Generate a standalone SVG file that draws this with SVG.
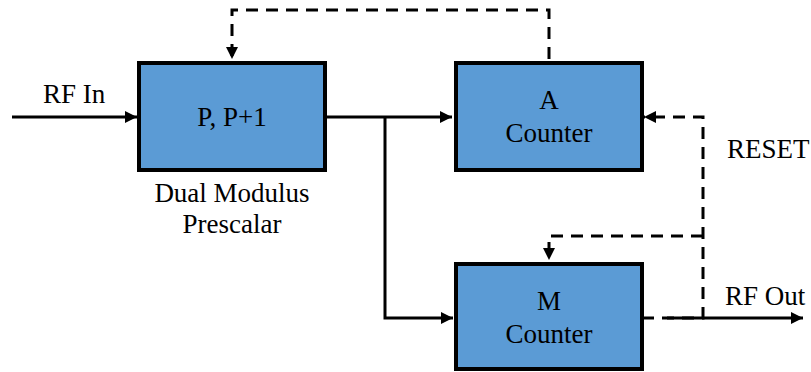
<svg xmlns="http://www.w3.org/2000/svg" width="811" height="372" viewBox="0 0 811 372">
  <style>
    .box { fill: #5B9BD5; stroke: #000; stroke-width: 4; }
    text { font-family: "Liberation Serif", "Times New Roman", "DejaVu Serif", serif; font-size: 27px; fill: #000; }
    .mid { text-anchor: middle; }
    .wire { fill: none; stroke: #000; stroke-width: 3; }
    .dash { fill: none; stroke: #000; stroke-width: 3; stroke-dasharray: 12 8; }
  </style>
  <defs>
    <marker id="arrow" viewBox="0 0 10 10" refX="10" refY="5" markerWidth="4" markerHeight="4" orient="auto" markerUnits="strokeWidth">
      <path d="M0,0 L10,5 L0,10 Z" fill="#000"/>
    </marker>
  </defs>

  <g id="connectors">
    <!-- RF input into prescaler -->
    <path class="wire" d="M12,117 H137" marker-end="url(#arrow)"/>
    <!-- prescaler output to A counter -->
    <path class="wire" d="M325,117 H452" marker-end="url(#arrow)"/>
    <!-- branch down to M counter -->
    <path class="wire" d="M385,117 V318 H453" marker-end="url(#arrow)"/>
    <!-- modulus control from A counter back to prescaler -->
    <path class="dash" d="M549,59 V10 H232 V59" marker-end="url(#arrow)"/>
    <!-- reset loop from M counter output -->
    <path class="dash" d="M642,318 H703 V117 H644" marker-end="url(#arrow)"/>
    <path class="dash" d="M703,236 H549 V260" marker-end="url(#arrow)"/>
    <!-- RF output -->
    <path class="wire" d="M667,318 H803" marker-end="url(#arrow)"/>
  </g>

  <g id="prescaler">
    <rect class="box" x="139" y="63" width="186" height="107"/>
    <text class="mid" x="232" y="126" font-family="Liberation Serif, serif">P, P+1</text>
  </g>
  <text class="mid" x="232" y="202" font-family="Liberation Serif, serif">Dual Modulus</text>
  <text class="mid" x="232" y="233" font-family="Liberation Serif, serif">Prescalar</text>

  <g id="a-counter">
    <rect class="box" x="456" y="63" width="186" height="107"/>
    <text class="mid" x="549" y="109" font-family="Liberation Serif, serif">A</text>
    <text class="mid" x="549" y="142" font-family="Liberation Serif, serif">Counter</text>
  </g>

  <g id="m-counter">
    <rect class="box" x="456" y="264" width="186" height="105"/>
    <text class="mid" x="549" y="310" font-family="Liberation Serif, serif">M</text>
    <text class="mid" x="549" y="343" font-family="Liberation Serif, serif">Counter</text>
  </g>

  <text x="43" y="103" font-family="Liberation Serif, serif">RF In</text>
  <text x="727" y="158" font-family="Liberation Serif, serif">RESET</text>
  <text x="725" y="305" font-family="Liberation Serif, serif">RF Out</text>
</svg>
